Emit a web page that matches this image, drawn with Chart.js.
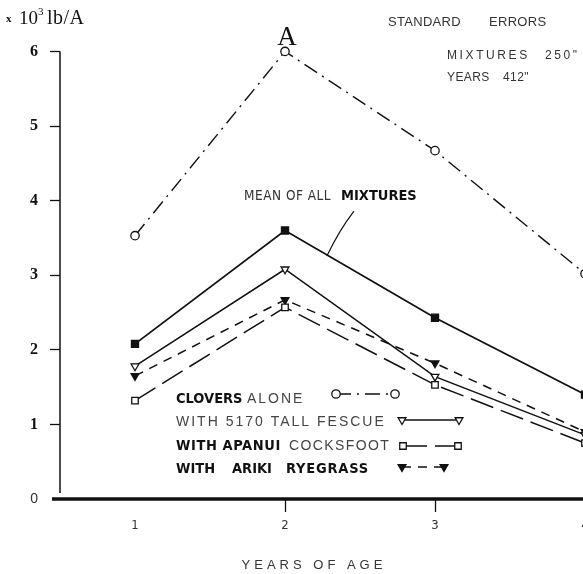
<!DOCTYPE html>
<html lang="en">
<head>
  <meta charset="UTF-8">
  <title>Yield by years of age</title>
  <script src="https://cdn.jsdelivr.net/npm/chart.js"></script>
  <style>
    html, body { margin: 0; padding: 0; background: #fff; overflow: hidden; }
    #wrap { width: 640px; height: 574px; }
  </style>
</head>
<body>
  <div id="wrap"><canvas id="yieldChart" width="640" height="574"></canvas></div>

  <script>
    // years of age and yields (x 10^3 lb/A)
    const years = [1, 2, 3, 4];
    const yTicks = [0, 1, 2, 3, 4, 5, 6];
    const cloversAlone = [3.53, 6.0, 4.67, 3.02];
    const meanAll = [2.08, 3.6, 2.43, 1.4];
    const tallFescue = [1.78, 3.08, 1.64, 0.86];
    const apanuiCocksfoot = [1.32, 2.57, 1.53, 0.75];
    const arikiRyegrass = [1.65, 2.67, 1.82, 0.9];

    const ink = '#111';
    const pts = arr => years.map((y, i) => ({ x: y, y: arr[i] }));

    const series = [
      { data: cloversAlone, dash: [15, 6, 2, 6], width: 1.4, style: 'circle', radius: 4.2, fill: '#fff', rot: 0 },
      { data: meanAll, dash: [], width: 1.8, style: 'rect', radius: 5, fill: ink, rot: 0 },
      { data: tallFescue, dash: [], width: 1.5, style: 'triangle', radius: 4.5, fill: '#fff', rot: 180 },
      { data: apanuiCocksfoot, dash: [24, 8], width: 1.5, style: 'rect', radius: 4.6, fill: '#fff', rot: 0 },
      { data: arikiRyegrass, dash: [9, 7], width: 1.5, style: 'triangle', radius: 4.5, fill: ink, rot: 180 }
    ];

    const sans = '"Liberation Sans", Arial, sans-serif';
    const narrow = '"Liberation Sans Narrow", "DejaVu Sans Condensed", sans-serif';
    const heavy = '"DejaVu Sans Condensed", "DejaVu Sans", sans-serif';
    const serif = '"Liberation Serif", "DejaVu Serif", serif';

    function runs(ctx, x, y, parts) {
      parts.forEach(p => {
        ctx.font = p.font;
        ctx.letterSpacing = p.ls || '0px';
        ctx.fillStyle = p.color || ink;
        if (p.at !== undefined) x = p.at;
        ctx.fillText(p.text, x, y);
        x += ctx.measureText(p.text).width;
      });
      ctx.letterSpacing = '0px';
    }

    function sample(ctx, s, x1, x2, y) {
      ctx.save();
      ctx.strokeStyle = ink;
      ctx.lineWidth = s.width;
      ctx.setLineDash(s.dash);
      ctx.beginPath();
      ctx.moveTo(x1, y);
      ctx.lineTo(x2, y);
      ctx.stroke();
      ctx.setLineDash([]);
      ctx.fillStyle = s.fill;
      ctx.lineWidth = 1.3;
      [x1, x2].forEach(x => Chart.helpers.drawPoint(ctx, {
        pointStyle: s.style, radius: s.radius, rotation: s.rot, borderWidth: 1.3
      }, x, y));
      ctx.restore();
    }

    const bold = 'bold 14.5px ' + heavy;

    const decorations = {
      id: 'decorations',
      afterDraw(chart) {
        const ctx = chart.ctx;
        const xs = chart.scales.x, ys = chart.scales.y;
        ctx.save();

        // axes
        ctx.strokeStyle = ink;
        ctx.lineWidth = 1.5;
        ctx.beginPath();
        ctx.moveTo(xs.left, ys.getPixelForValue(6));
        ctx.lineTo(xs.left, ys.getPixelForValue(0.08));
        ctx.stroke();
        ctx.lineWidth = 3.5;
        ctx.beginPath();
        ctx.moveTo(xs.left - 8, ys.getPixelForValue(0));
        ctx.lineTo(chart.width, ys.getPixelForValue(0));
        ctx.stroke();

        // leader from the label to the mean line
        ctx.lineWidth = 1.2;
        ctx.beginPath();
        ctx.moveTo(xs.getPixelForValue(2.46), ys.getPixelForValue(3.86));
        ctx.quadraticCurveTo(xs.getPixelForValue(2.36), ys.getPixelForValue(3.6),
                             xs.getPixelForValue(2.28), ys.getPixelForValue(3.26));
        ctx.stroke();

        ctx.textBaseline = 'middle';
        ctx.textAlign = 'left';

        // unit label
        runs(ctx, 6, 19, [
          { text: 'x', font: 'bold 11px ' + serif },
          { text: '10', font: '19px ' + serif, at: 19 }
        ]);
        runs(ctx, 38, 12, [{ text: '3', font: '11px ' + serif }]);
        runs(ctx, 47, 19, [{ text: 'lb/A', font: '20px ' + serif, ls: '0.5px' }]);

        // panel letter
        ctx.textAlign = 'center';
        ctx.font = '27px ' + serif;
        ctx.fillStyle = ink;
        ctx.fillText('A', 287, 38);
        ctx.textAlign = 'left';

        // standard errors
        runs(ctx, 388, 22, [
          { text: 'STANDARD', font: '13px ' + sans, ls: '0.3px', color: '#333' },
          { text: 'ERRORS', font: '13px ' + sans, ls: '0.3px', color: '#333', at: 489 }
        ]);
        runs(ctx, 447, 56, [
          { text: 'MIXTURES', font: '12px ' + sans, ls: '2.6px', color: '#333' },
          { text: '250"', font: '12px ' + sans, ls: '2.6px', color: '#333', at: 545 }
        ]);
        runs(ctx, 447, 78, [
          { text: 'YEARS', font: '12px ' + sans, ls: '0.4px', color: '#333' },
          { text: '412"', font: '12px ' + sans, ls: '0.4px', color: '#333', at: 503 }
        ]);

        // mean label
        runs(ctx, 244, 196, [
          { text: 'MEAN OF ALL ', font: '13.5px ' + narrow, ls: '0.5px', color: '#333' },
          { text: 'MIXTURES', font: bold, at: 341 }
        ]);

        // legend
        runs(ctx, 176, 399, [
          { text: 'CLOVERS', font: bold },
          { text: 'ALONE', font: '14px ' + sans, ls: '2px', color: '#444', at: 247 }
        ]);
        sample(ctx, series[0], 336, 395, 394);
        runs(ctx, 176, 422, [
          { text: 'WITH 5170 TALL FESCUE', font: '14px ' + sans, ls: '2px', color: '#444' }
        ]);
        sample(ctx, series[2], 402, 459, 420);
        runs(ctx, 176, 446, [
          { text: 'WITH APANUI', font: bold, ls: '0.6px' },
          { text: 'COCKSFOOT', font: '14px ' + sans, ls: '1.4px', color: '#444', at: 289 }
        ]);
        sample(ctx, series[3], 403, 458, 446);
        runs(ctx, 176, 469, [
          { text: 'WITH', font: bold },
          { text: 'ARIKI', font: bold, at: 232 },
          { text: 'RYEGRASS', font: bold, ls: '0.8px', at: 286 }
        ]);
        sample(ctx, series[4], 402, 444, 467);

        // x axis title
        ctx.textAlign = 'center';
        ctx.font = '13px ' + sans;
        ctx.letterSpacing = '4px';
        ctx.fillStyle = '#333';
        ctx.fillText('YEARS OF AGE', 314, 565);
        ctx.letterSpacing = '0px';

        ctx.restore();
      }
    };

    new Chart(document.getElementById('yieldChart'), {
      type: 'line',
      data: {
        datasets: series.map(s => ({
          data: pts(s.data),
          borderColor: ink,
          borderWidth: s.width,
          borderDash: s.dash,
          pointStyle: s.style,
          pointRadius: s.radius,
          pointRotation: s.rot,
          pointBackgroundColor: s.fill,
          pointBorderColor: ink,
          pointBorderWidth: 1.3,
          tension: 0,
          fill: false
        }))
      },
      options: {
        responsive: false,
        animation: false,
        layout: { padding: { top: 12.6, right: 10, left: 0, bottom: 0 } },
        plugins: { legend: { display: false }, tooltip: { enabled: false } },
        scales: {
          x: {
            type: 'linear',
            min: 0.5,
            max: 4.3,
            afterBuildTicks: sc => { sc.ticks = years.map(v => ({ value: v })); },
            afterFit: sc => { sc.height = 75; },
            border: { display: false },
            grid: {
              drawOnChartArea: false,
              tickLength: 13,
              tickWidth: 1.3,
              tickColor: c => (c.tick && c.tick.value === 1) ? 'rgba(0,0,0,0)' : ink
            },
            ticks: {
              padding: 6,
              color: '#333',
              font: { family: narrow, size: 13 },
              callback: v => String(v)
            }
          },
          y: {
            min: 0,
            max: 6.4,
            afterBuildTicks: sc => { sc.ticks = yTicks.map(v => ({ value: v })); },
            afterFit: sc => { sc.width = 60; },
            border: { display: false },
            grid: {
              drawOnChartArea: false,
              tickLength: 10,
              tickWidth: 1.3,
              tickColor: c => (c.tick && c.tick.value === 0) ? 'rgba(0,0,0,0)' : ink
            },
            ticks: {
              padding: 12,
              color: c => (c.tick && c.tick.value === 0) ? '#333' : ink,
              font: c => (c.tick && c.tick.value === 0)
                ? { family: sans, size: 14 }
                : { family: serif, size: 16, weight: 'bold' },
              callback: v => String(v)
            }
          }
        }
      },
      plugins: [decorations]
    });
  </script>
</body>
</html>
